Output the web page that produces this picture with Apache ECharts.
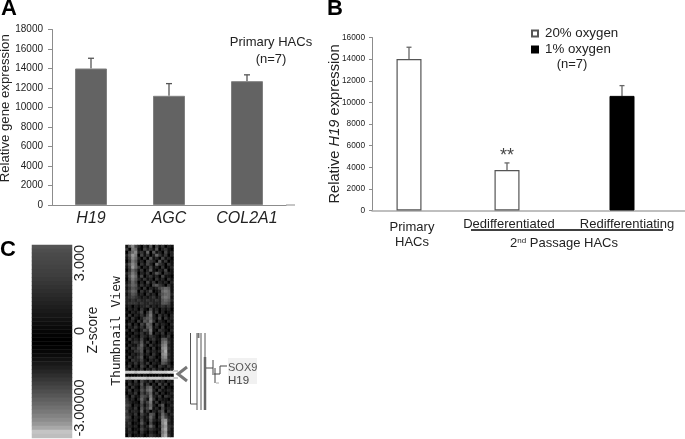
<!DOCTYPE html>
<html>
<head>
<meta charset="utf-8">
<style>
  html, body { margin: 0; padding: 0; background: #fff; }
  #chart { width: 685px; height: 439px; }
</style>
<script src="https://cdn.jsdelivr.net/npm/echarts@6/dist/echarts.min.js"></script>
</head>
<body>
<div id="chart"></div>
<script>
// panel A
var genes = ['H19', 'AGC', 'COL2A1'];
var geneValues = [14000, 11200, 12700];
var geneErrTops = [15050, 12450, 13350];

// panel B
var stageLabels = ['{p|Primary}\n{h|HACs}', '{d|Dedifferentiated}', '{d|Redifferentiating}'];
var oxygen20 = [14000, 3750, null];
var oxygen1 = [null, null, 10600];
var stageErrTops = [15100, 4400, 11550];

// panel C, gray levels
var zscoreBar = [
  84, 78, 74, 72, 70, 67, 64, 62, 58, 54, 50, 46, 42, 38, 34, 30,
  26, 22, 18, 14, 10, 6, 3, 0, 0, 3, 7, 12, 18, 24, 31, 38,
  46, 54, 62, 70, 78, 86, 95, 103, 112, 120, 130, 140, 152, 168, 196, 190
];
var thumbnailRows = [
  '1584203150413021', '3076104231502310', '0468231605120412', '2597041302631302',
  '1486203051204120', '0375120432051301', '2586031420632031', '1496302141203012',
  '0364130251021401', '2475021302530321', '1586140231204110', '0475213120312031',
  '1364020413021202', '2465131204532031', '1354203021245651', '2465031240126761',
  '1354120312035662', '2343212123126761', '2232322322325652', '2333232232225541',
  '1202122312123231', '0212031041202120', '1021240361302011', '0302131472031202',
  '2031024562140312', '0120315473021021', '1302042650312102', '0213131561203011',
  '2031024371032102', '0102131260213021', '1021032132102130', '0312141023115521',
  '1023251302016731', '0211362031127821', '2032451203018931', '0113350312127a21',
  '1021241203108931', '0312350132017821', '1032241021206631', '0213131302115420',
  '1302042031032131', '2021130213120212', 'cccbccccbcccccdd', '0000101000010000',
  'cbcccccbccccbccd', '1203042130312021', '0312151302041302', '2031042561203010',
  '1302153672031121', '0213042461302012', '2031154372130321', '3120263183021102',
  '3211052471302121', '4302141362035012', '3213052471204121', '4122161302135031',
  '3213042154026312', '4302131263037421', '3212041152128931', '2301152041018a21',
  '2212031263027932', '1301142132118a31', '1212031021027921', '0301120132118a31'
];
var thumbLevels = '0123456789abcdef';

// layout of panel B along its x axis, which is not evenly spaced
var barSlots = [37, 135, 250];
var labelSlots = [40, 137, 255];

var axisGray = '#8c8c8c';
var fontFamily = '"Liberation Sans", Arial, sans-serif';

function errorSeries(xAxisIndex, yAxisIndex, data, color, cap) {
  return {
    type: 'custom',
    xAxisIndex: xAxisIndex,
    yAxisIndex: yAxisIndex,
    data: data,
    encode: { x: 0, y: [1, 2] },
    silent: true,
    z: 1,
    renderItem: function (params, api) {
      var low = api.coord([api.value(0), api.value(1)]);
      var high = api.coord([api.value(0), api.value(2)]);
      var style = { stroke: color, lineWidth: 1.3, fill: null };
      return {
        type: 'group',
        children: [
          { type: 'line', shape: { x1: low[0], y1: low[1], x2: high[0], y2: high[1] }, style: style },
          { type: 'line', shape: { x1: high[0] - cap, y1: high[1], x2: high[0] + cap, y2: high[1] }, style: style }
        ]
      };
    }
  };
}

function rotated(text, x, y, size, family) {
  return {
    type: 'text', x: x, y: y, rotation: Math.PI / 2,
    style: { text: text, fontSize: size, fontFamily: family || fontFamily, fill: '#222', align: 'center', verticalAlign: 'middle' }
  };
}

function plainText(text, x, y, size, weight) {
  return {
    type: 'text', x: x, y: y,
    style: { text: text, fontSize: size, fontFamily: fontFamily, fontWeight: weight || 'normal', fill: weight ? '#000' : '#222', align: 'center', verticalAlign: 'middle' }
  };
}

function dendroLine(x1, y1, x2, y2, color, width) {
  return {
    type: 'line', z: 5,
    shape: { x1: x1, y1: y1, x2: x2, y2: y2 },
    style: { stroke: color || '#444', lineWidth: width || 1 }
  };
}

var thumbData = [];
thumbnailRows.forEach(function (row, r) {
  row.split('').forEach(function (ch, c) {
    thumbData.push([c, r, thumbLevels.indexOf(ch) * 17]);
  });
});

var option = {
  backgroundColor: '#ffffff',
  animation: false,
  textStyle: { fontFamily: fontFamily },
  legend: {
    orient: 'vertical',
    left: 531,
    top: 27,
    itemWidth: 6,
    itemHeight: 6,
    itemGap: 3,
    padding: 0,
    icon: 'rect',
    selectedMode: false,
    data: ['20% oxygen', '1% oxygen'],
    textStyle: { fontSize: 13.3, color: '#222', fontFamily: fontFamily, padding: [0, 0, 0, 2] }
  },
  visualMap: {
    show: false,
    seriesIndex: [6, 7],
    min: 0,
    max: 255,
    inRange: { color: ['#000000', '#ffffff'] }
  },
  grid: [
    { left: 52, top: 29.5, width: 234, height: 175.5, outerBoundsMode: 'none' },
    { left: 372, top: 37.5, width: 313, height: 173, outerBoundsMode: 'none' },
    { left: 32, top: 245, width: 40, height: 193, outerBoundsMode: 'none' },
    { left: 125.5, top: 245, width: 48, height: 192, outerBoundsMode: 'none' }
  ],
  xAxis: [
    {
      gridIndex: 0,
      type: 'category',
      data: genes,
      axisLine: { lineStyle: { color: axisGray } },
      axisTick: { length: 3, lineStyle: { color: axisGray } },
      axisLabel: { interval: 0, fontSize: 16, fontStyle: 'italic', color: '#222', margin: 6, fontFamily: fontFamily }
    },
    {
      gridIndex: 1,
      type: 'value',
      min: 0,
      max: 313,
      splitLine: { show: false },
      axisLine: { lineStyle: { color: '#aaaaaa', width: 1.5 } },
      axisTick: { show: false },
      axisLabel: {
        customValues: labelSlots,
        margin: 7,
        verticalAlign: 'top',
        hideOverlap: false,
        formatter: function (v) { return stageLabels[labelSlots.indexOf(v)]; },
        rich: {
          d: { fontSize: 13, color: '#222', lineHeight: 14, fontFamily: fontFamily },
          p: { fontSize: 13, color: '#222', lineHeight: 20, fontFamily: fontFamily },
          h: { fontSize: 13, color: '#222', lineHeight: 9, fontFamily: fontFamily }
        }
      }
    },
    { gridIndex: 2, type: 'category', show: false, data: ['z'] },
    { gridIndex: 3, type: 'category', show: false, data: thumbnailRows[0].split('').map(function (d, i) { return i; }) }
  ],
  yAxis: [
    {
      gridIndex: 0,
      type: 'value',
      min: 0,
      max: 18000,
      interval: 2000,
      name: 'Relative gene expression',
      nameLocation: 'middle',
      nameMoveOverlap: false,
      nameGap: 40,
      nameTextStyle: { fontSize: 13.2, color: '#222', fontFamily: fontFamily, padding: [0, 0, 0, 18] },
      splitLine: { show: false },
      axisLine: { show: true, lineStyle: { color: axisGray } },
      axisTick: { show: true, length: 4, lineStyle: { color: axisGray } },
      axisLabel: {
        fontSize: 10, color: '#222', margin: 9, fontFamily: fontFamily,
        formatter: function (v) { return String(v); }
      }
    },
    {
      gridIndex: 1,
      type: 'value',
      min: 0,
      max: 16000,
      interval: 2000,
      name: '{n|Relative }{i|H19}{n| expression}',
      nameLocation: 'middle',
      nameMoveOverlap: false,
      nameGap: 30,
      nameTextStyle: {
        rich: {
          n: { fontSize: 14.7, color: '#222', fontFamily: fontFamily },
          i: { fontSize: 14.7, color: '#222', fontStyle: 'italic', fontFamily: fontFamily }
        }
      },
      splitLine: { show: false },
      axisLine: { show: true, lineStyle: { color: axisGray } },
      axisTick: { show: true, length: 3, lineStyle: { color: axisGray } },
      axisLabel: {
        fontSize: 8.3, color: '#222', margin: 7, fontFamily: fontFamily,
        formatter: function (v) { return String(v); }
      }
    },
    { gridIndex: 2, type: 'category', show: false, inverse: true, data: zscoreBar.map(function (d, i) { return i; }) },
    { gridIndex: 3, type: 'category', show: false, inverse: true, data: thumbnailRows.map(function (d, i) { return i; }) }
  ],
  series: [
    errorSeries(0, 0, genes.map(function (g, i) { return [i, geneValues[i], geneErrTops[i]]; }), '#555555', 3),
    {
      type: 'bar',
      name: 'Relative gene expression',
      xAxisIndex: 0,
      yAxisIndex: 0,
      data: geneValues,
      barWidth: 32,
      z: 2,
      itemStyle: { color: '#636363', borderColor: '#808080', borderWidth: 1 }
    },
    errorSeries(1, 1, barSlots.map(function (x, i) { return [x, oxygen20[i] || oxygen1[i], stageErrTops[i]]; }), '#666666', 2.5),
    {
      type: 'bar',
      name: '20% oxygen',
      xAxisIndex: 1,
      yAxisIndex: 1,
      stack: 'stage',
      barWidth: 25,
      z: 2,
      data: barSlots.map(function (x, i) { return [x, oxygen20[i]]; }),
      itemStyle: { color: '#ffffff', borderColor: '#555555', borderWidth: 1.2 }
    },
    {
      type: 'bar',
      name: '1% oxygen',
      xAxisIndex: 1,
      yAxisIndex: 1,
      stack: 'stage',
      barWidth: 25,
      z: 2,
      data: barSlots.map(function (x, i) { return [x, oxygen1[i]]; }),
      itemStyle: { color: '#000000', borderColor: '#000000', borderWidth: 1 }
    },
    {
      type: 'scatter',
      xAxisIndex: 1,
      yAxisIndex: 1,
      symbolSize: 0,
      silent: true,
      data: [[barSlots[1], stageErrTops[1]]],
      label: { show: true, position: 'top', distance: -2, formatter: '**', fontSize: 18, color: '#111', fontFamily: fontFamily }
    },
    {
      type: 'heatmap',
      xAxisIndex: 2,
      yAxisIndex: 2,
      silent: true,
      data: zscoreBar.map(function (v, i) { return [0, i, v]; })
    },
    {
      type: 'heatmap',
      xAxisIndex: 3,
      yAxisIndex: 3,
      silent: true,
      data: thumbData
    }
  ],
  graphic: [
    plainText('A', 9, 9, 22, 'bold'),
    plainText('B', 335, 9, 22, 'bold'),
    plainText('C', 8, 250, 22, 'bold'),
    dendroLine(286, 205, 295, 205, axisGray),
    plainText('Primary HACs', 271, 42, 13),
    plainText('(n=7)', 271, 59, 13),
    plainText('(n=7)', 572, 64, 13),
    dendroLine(471, 230, 663, 230, '#000', 1.5),
    {
      type: 'text', x: 564, y: 243,
      style: {
        text: '{n|2}{s|nd}{n| Passage HACs}',
        align: 'center', verticalAlign: 'middle',
        rich: {
          n: { fontSize: 13, fill: '#222', fontFamily: fontFamily },
          s: { fontSize: 8, fill: '#222', fontFamily: fontFamily, verticalAlign: 'top' }
        }
      }
    },
    rotated('3.000', 80, 263, 14.5),
    rotated('0', 80, 331, 14.5),
    rotated('-3.00000', 80, 408, 14.5),
    rotated('Z-score', 93, 330, 13.8),
    rotated('Thumbnail View', 117, 331, 13, '"DejaVu Sans Mono", monospace'),
    // dendrogram next to the thumbnail
    dendroLine(173, 371, 178, 371, '#cfcfcf', 2),
    dendroLine(173, 378, 178, 378, '#cfcfcf', 2),
    { type: 'polyline', z: 5, shape: { points: [[187, 367], [178, 374], [187, 381]] }, style: { stroke: '#777', lineWidth: 3, fill: null } },
    dendroLine(190.5, 333, 190.5, 404, '#555'),
    dendroLine(190.5, 404, 197, 404, '#555'),
    dendroLine(197, 333, 197, 410, '#555'),
    dendroLine(201, 333, 201, 410, '#555'),
    dendroLine(205, 333, 205, 357, '#555'),
    dendroLine(205, 357, 205, 410, '#666', 2.5),
    dendroLine(198.5, 333, 198.5, 338, '#777', 2),
    dendroLine(206, 368, 213, 368, '#444'),
    dendroLine(213, 360, 213, 375, '#444'),
    dendroLine(214, 374, 220, 374, '#444'),
    dendroLine(220, 366, 220, 374, '#444'),
    dendroLine(220, 366, 227, 366, '#444'),
    dendroLine(215, 368, 215, 383, '#444'),
    dendroLine(216, 383, 219, 383, '#aaa'),
    { type: 'rect', z: 3, shape: { x: 228, y: 358, width: 29, height: 26 }, style: { fill: '#f1f1f1' } },
    { type: 'text', z: 6, x: 228, y: 368, style: { text: 'SOX9', fontSize: 11, fontFamily: fontFamily, fill: '#555', verticalAlign: 'middle' } },
    { type: 'text', z: 6, x: 228, y: 381, style: { text: 'H19', fontSize: 11.5, fontFamily: fontFamily, fill: '#444', verticalAlign: 'middle' } },
    { type: 'rect', z: 7, shape: { x: 226, y: 384, width: 34, height: 8 }, style: { fill: '#ffffff' } }
  ]
};

var chart = echarts.init(document.getElementById('chart'), null, { renderer: 'canvas' });
chart.setOption(option);
</script>
</body>
</html>
